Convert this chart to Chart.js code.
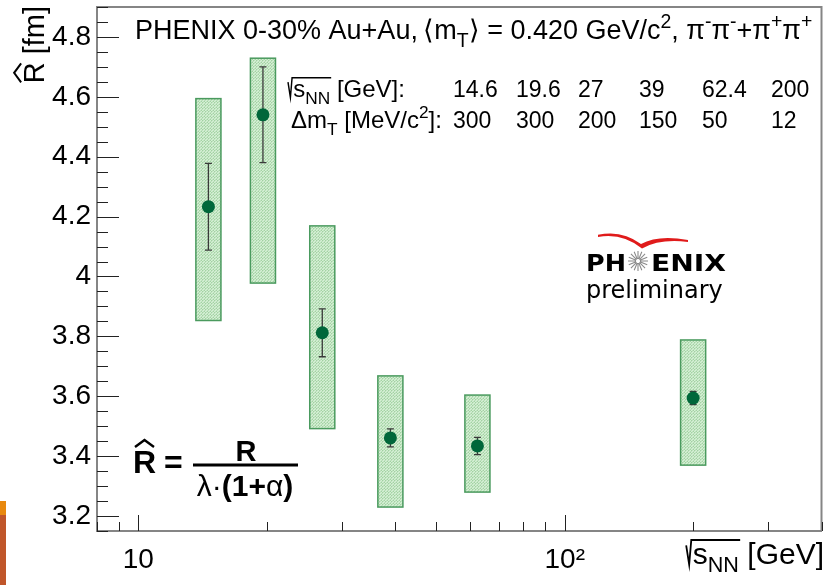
<!DOCTYPE html>
<html>
<head>
<meta charset="utf-8">
<script src="https://cdn.jsdelivr.net/npm/chart.js@4.4.1/dist/chart.umd.min.js"></script>
<style>
  html, body { margin: 0; padding: 0; background: #fff; }
  canvas { display: block; }
</style>
</head>
<body>
<canvas id="c" width="828" height="585" style="width:828px;height:585px"></canvas>
<script>
// Collision energies sqrt(s_NN) [GeV]
const energies = [14.6, 19.6, 27, 39, 62.4, 200];
// R-hat [fm] central values
const radius = [4.233, 4.540, 3.812, 3.461, 3.434, 3.594];
// statistical uncertainties (symmetric)
const statErr = [0.145, 0.160, 0.080, 0.030, 0.029, 0.022];
// systematic uncertainties (upper / lower)
const sysUp = [0.361, 0.189, 0.357, 0.207, 0.170, 0.194];
const sysDown = [0.380, 0.562, 0.320, 0.231, 0.154, 0.224];
// m_T bin widths Delta m_T [MeV/c^2]
const dmT = [300, 300, 200, 150, 50, 12];
// axis tick values and labels
const xTicks = [10, 100];
const xTickLabels = ['10', '10\u00B2'];
const yTicks = [3.2, 3.4, 3.6, 3.8, 4.0, 4.2, 4.4, 4.6, 4.8];
const yTickLabels = ['3.2', '3.4', '3.6', '3.8', '4', '4.2', '4.4', '4.6', '4.8'];

const FONT = '"Liberation Sans", Arial, sans-serif';
const LOGO_FONT = '"DejaVu Sans", Verdana, sans-serif';

// dotted light-green fill for the systematic boxes
function makeHatch() {
  const p = document.createElement('canvas');
  p.width = 3; p.height = 3;
  const g = p.getContext('2d');
  g.fillStyle = '#bfe3bf'; g.fillRect(0, 0, 3, 3);
  g.fillStyle = '#d6efd6'; g.fillRect(0, 0, 1, 1); g.fillRect(2, 1, 1, 1); g.fillRect(1, 2, 1, 1);
  g.fillStyle = '#a3d2a3'; g.fillRect(1, 0, 1, 1); g.fillRect(0, 2, 1, 1);
  return p;
}

// text with sub/superscripts: segments [text, kind, weight]
function drawRich(ctx, x, y, segs, size, family) {
  let cx = x;
  for (const [t, k, w] of segs) {
    const s = k ? size * 0.72 : size;
    const dy = k === 'sub' ? size * 0.28 : (k === 'sup' ? -size * 0.42 : 0);
    ctx.font = `${w || 'normal'} ${s}px ${family || FONT}`;
    ctx.fillText(t, cx, y + dy);
    cx += ctx.measureText(t).width;
  }
  return cx;
}
function richWidth(ctx, segs, size, family) {
  let w = 0;
  for (const [t, k, wt] of segs) {
    const s = k ? size * 0.72 : size;
    ctx.font = `${wt || 'normal'} ${s}px ${family || FONT}`;
    w += ctx.measureText(t).width;
  }
  return w;
}
// radical sign with overline over s_NN
function drawSqrtS(ctx, x, y, size) {
  const segs = [['s', ''], ['NN', 'sub']];
  const w = richWidth(ctx, segs, size);
  ctx.save();
  ctx.strokeStyle = '#000';
  ctx.lineWidth = size * 0.06;
  ctx.beginPath();
  ctx.moveTo(x, y - size * 0.62);
  ctx.lineTo(x + size * 0.1, y + size * 0.02);
  ctx.lineTo(x + size * 0.17, y - size * 0.8);
  ctx.lineTo(x + size * 0.26 + w, y - size * 0.8);
  ctx.stroke();
  ctx.restore();
  return drawRich(ctx, x + size * 0.22, y, segs, size);
}
function drawHat(ctx, x0, x1, yBase, h, lw) {
  ctx.save();
  ctx.strokeStyle = '#000';
  ctx.lineWidth = lw;
  ctx.beginPath();
  ctx.moveTo(x0, yBase);
  ctx.lineTo((x0 + x1) / 2, yBase - h);
  ctx.lineTo(x1, yBase);
  ctx.stroke();
  ctx.restore();
}

const hatch = makeHatch();

// systematic boxes and statistical error bars, drawn under the markers
const errorPlugin = {
  id: 'errors',
  beforeDatasetsDraw(chart) {
    const { ctx, scales: { x, y } } = chart;
    const pattern = ctx.createPattern(hatch, 'repeat');
    ctx.save();
    energies.forEach((e, i) => {
      const xl = x.getPixelForValue(e / 1.07);
      const xr = x.getPixelForValue(e * 1.07);
      const yt = y.getPixelForValue(radius[i] + sysUp[i]);
      const yb = y.getPixelForValue(radius[i] - sysDown[i]);
      ctx.fillStyle = pattern;
      ctx.fillRect(xl, yt, xr - xl, yb - yt);
      ctx.strokeStyle = '#4a9a5e';
      ctx.lineWidth = 1.5;
      ctx.strokeRect(xl, yt, xr - xl, yb - yt);
    });
    energies.forEach((e, i) => {
      const xc = x.getPixelForValue(e);
      const y1 = y.getPixelForValue(radius[i] + statErr[i]);
      const y2 = y.getPixelForValue(radius[i] - statErr[i]);
      ctx.strokeStyle = '#3a3a3a';
      ctx.lineWidth = 1.3;
      ctx.beginPath();
      ctx.moveTo(xc, y1); ctx.lineTo(xc, y2);
      ctx.moveTo(xc - 3.5, y1); ctx.lineTo(xc + 3.5, y1);
      ctx.moveTo(xc - 3.5, y2); ctx.lineTo(xc + 3.5, y2);
      ctx.stroke();
    });
    ctx.restore();
  }
};

// frame, inward ticks, titles and annotations
const decorPlugin = {
  id: 'decor',
  afterDraw(chart) {
    const { ctx, chartArea: a, scales: { x, y } } = chart;
    ctx.save();
    // top and right frame
    ctx.strokeStyle = '#858585';
    ctx.lineWidth = 2;
    ctx.beginPath();
    ctx.moveTo(a.left, a.top); ctx.lineTo(a.right, a.top); ctx.lineTo(a.right, a.bottom);
    ctx.stroke();

    // inward ticks
    ctx.strokeStyle = '#222';
    ctx.lineWidth = 1;
    ctx.beginPath();
    for (let v = 3.15; v <= 4.9001; v += 0.05) {
      const py = Math.round(y.getPixelForValue(v)) + 0.5;
      const major = yTicks.some(t => Math.abs(t - v) < 1e-6);
      ctx.moveTo(a.left, py); ctx.lineTo(a.left + (major ? 22 : 11), py);
    }
    for (let dec = 1; dec <= 100; dec *= 10) {
      for (let m = 1; m <= 9; m++) {
        const v = m * dec;
        if (v < 8 || v > 400) continue;
        const px = Math.round(x.getPixelForValue(v)) + 0.5;
        ctx.moveTo(px, a.bottom); ctx.lineTo(px, a.bottom - (m === 1 ? 16 : 9));
      }
    }
    ctx.stroke();

    ctx.fillStyle = '#000';
    ctx.textBaseline = 'alphabetic';
    ctx.textAlign = 'left';

    // header line
    drawRich(ctx, 135, 39, [
      ['PHENIX 0-30% Au+Au,\u2009\u27E8m', ''], ['T', 'sub'], ['\u27E9 = 0.420 GeV/c', ''], ['2', 'sup'],
      [', \u03C0', ''], ['-', 'sup'], ['\u03C0', ''], ['-', 'sup'], ['+\u03C0', ''], ['+', 'sup'],
      ['\u03C0', ''], ['+', 'sup']
    ], 27);

    // energy / m_T bin table
    const cols = [453, 516, 578, 639, 702, 771];
    let ex = drawSqrtS(ctx, 288, 97, 24);
    drawRich(ctx, ex, 97, [[' [GeV]:', '']], 24);
    drawRich(ctx, 291, 128, [['\u0394m', ''], ['T', 'sub'], [' [MeV/c', ''], ['2', 'sup'], [']:', '']], 24);
    ctx.font = `23px ${FONT}`;
    energies.forEach((e, i) => ctx.fillText(String(e), cols[i], 97));
    dmT.forEach((d, i) => ctx.fillText(String(d), cols[i], 128));

    // y axis title
    const ySize = 29;
    ctx.save();
    ctx.translate(44, 6);
    ctx.rotate(-Math.PI / 2);
    ctx.textAlign = 'right';
    ctx.font = `${ySize}px ${FONT}`;
    ctx.fillText(' [fm]', 0, 0);
    const fmW = ctx.measureText(' [fm]').width;
    ctx.fillText('R', -fmW, 0);
    const rW = ctx.measureText('R').width;
    ctx.restore();
    // hat over the rotated R
    {
      const top = 44 - ySize * 0.72;
      const y0 = 6 + fmW + rW - 1, y1 = 6 + fmW + 1;
      ctx.save();
      ctx.strokeStyle = '#000'; ctx.lineWidth = 2;
      ctx.beginPath();
      ctx.moveTo(top - 2, y0); ctx.lineTo(top - 9, (y0 + y1) / 2); ctx.lineTo(top - 2, y1);
      ctx.stroke();
      ctx.restore();
    }

    // x axis title
    {
      const size = 30;
      const segs = [['s', ''], ['NN', 'sub']];
      ctx.font = `${size}px ${FONT}`;
      const gevW = ctx.measureText(' [GeV]').width;
      const sW = richWidth(ctx, segs, size) + size * 0.22;
      const x0 = 824 - gevW - sW;
      const ex2 = drawSqrtS(ctx, x0, 564, size);
      ctx.font = `${size}px ${FONT}`;
      ctx.fillText(' [GeV]', ex2, 564);
    }

    // formula R-hat = R / (lambda (1+alpha))
    ctx.font = `bold 32px ${FONT}`;
    ctx.fillText('R', 133, 473);
    drawHat(ctx, 135, 154, 447, 7, 2.4);
    ctx.fillText('=', 164, 473);
    ctx.fillRect(193, 463.5, 105, 3);
    ctx.textAlign = 'center';
    ctx.font = `bold 29px ${FONT}`;
    ctx.fillText('R', 246, 461);
    ctx.textAlign = 'left';
    const den = [['\u03BB\u00B7', '', 'normal'], ['(1+', '', 'bold'], ['\u03B1', '', 'normal'], [')', '', 'bold']];
    const dw = richWidth(ctx, den, 30);
    drawRich(ctx, 245 - dw / 2, 496, den, 30);

    // PHENIX preliminary logo
    ctx.font = `bold 23px ${LOGO_FONT}`;
    ctx.save();
    const phW = ctx.measureText('PH').width;
    ctx.translate(586, 271);
    ctx.scale(40 / phW, 1);
    ctx.fillText('PH', 0, 0);
    ctx.restore();
    ctx.save();
    const enixW = ctx.measureText('ENIX').width;
    ctx.translate(651, 271);
    ctx.scale(75 / enixW, 1);
    ctx.fillText('ENIX', 0, 0);
    ctx.restore();
    ctx.save();
    ctx.strokeStyle = '#8a8a8a'; ctx.lineWidth = 1.1;
    ctx.beginPath();
    for (let k = 0; k < 16; k++) {
      const ang = k * Math.PI / 8;
      ctx.moveTo(638 + Math.cos(ang) * 2, 261 + Math.sin(ang) * 2);
      ctx.lineTo(638 + Math.cos(ang) * 10, 261 + Math.sin(ang) * 10);
    }
    ctx.stroke();
    // red swoosh
    ctx.fillStyle = '#e01b1b';
    ctx.beginPath();
    ctx.moveTo(598, 237);
    ctx.quadraticCurveTo(622, 232.5, 642, 248.5);
    ctx.quadraticCurveTo(660, 238.5, 688, 242);
    ctx.lineTo(688, 240);
    ctx.quadraticCurveTo(658, 234.5, 641, 244);
    ctx.quadraticCurveTo(622, 229.5, 598, 234.8);
    ctx.closePath();
    ctx.fill();
    ctx.restore();
    ctx.font = `24px ${LOGO_FONT}`;
    ctx.fillText('preliminary', 586, 298);

    // slide edge strip
    ctx.fillStyle = '#e8890f';
    ctx.fillRect(0, 501, 6, 14);
    ctx.fillStyle = '#c0562a';
    ctx.fillRect(0, 515, 6, 70);
    ctx.restore();
  }
};

new Chart(document.getElementById('c'), {
  type: 'scatter',
  data: {
    datasets: [{
      data: energies.map((e, i) => ({ x: e, y: radius[i] })),
      pointRadius: 6.5,
      pointHoverRadius: 6.5,
      backgroundColor: '#00673a',
      borderWidth: 0
    }]
  },
  options: {
    responsive: false,
    animation: false,
    layout: { padding: { left: 0, top: 7, right: 4, bottom: 0 } },
    plugins: { legend: { display: false }, tooltip: { enabled: false } },
    scales: {
      x: {
        type: 'logarithmic',
        min: 8, max: 400,
        grid: { display: false, drawTicks: false },
        border: { display: true, color: '#858585', width: 2 },
        afterBuildTicks: s => { s.ticks = xTicks.map(v => ({ value: v })); },
        afterFit: s => { s.height = 54; s.paddingLeft = 0; s.paddingRight = 0; },
        ticks: {
          autoSkip: false, maxRotation: 0, padding: 12,
          color: '#000', font: { family: FONT, size: 28 },
          callback: (v) => xTickLabels[xTicks.indexOf(v)]
        }
      },
      y: {
        min: 3.15, max: 4.9,
        grid: { display: false, drawTicks: false },
        border: { display: true, color: '#858585', width: 2 },
        afterBuildTicks: s => { s.ticks = yTicks.map(v => ({ value: v })); },
        afterFit: s => { s.width = 97; s.paddingTop = 0; s.paddingBottom = 0; },
        ticks: {
          autoSkip: false, padding: 6,
          color: '#000', font: { family: FONT, size: 28 },
          callback: (v) => yTickLabels[yTicks.findIndex(t => Math.abs(t - v) < 1e-6)]
        }
      }
    }
  },
  plugins: [errorPlugin, decorPlugin]
});
</script>
</body>
</html>
